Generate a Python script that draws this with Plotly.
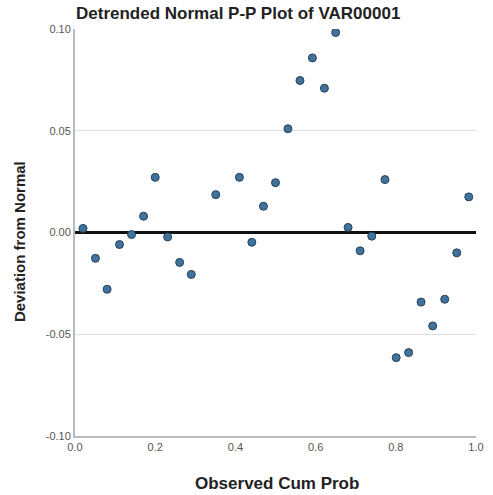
import plotly.graph_objects as go

observed_cum_prob = [0.020, 0.051, 0.080, 0.111, 0.141, 0.171, 0.200, 0.231, 0.261, 0.290,
                     0.351, 0.410, 0.441, 0.470, 0.500, 0.531, 0.561, 0.592, 0.622, 0.650,
                     0.681, 0.711, 0.740, 0.773, 0.801, 0.832, 0.863, 0.892, 0.922, 0.952, 0.982]
deviation = [0.0020, -0.0127, -0.0279, -0.0059, -0.0010, 0.0080, 0.0271, -0.0022, -0.0147, -0.0206,
             0.0186, 0.0271, -0.0048, 0.0129, 0.0245, 0.0510, 0.0747, 0.0858, 0.0709, 0.0983,
             0.0025, -0.0090, -0.0018, 0.0260, -0.0615, -0.0590, -0.0342, -0.0459, -0.0328, -0.0100, 0.0175]

x_ticks = [0.0, 0.2, 0.4, 0.6, 0.8, 1.0]
x_labels = ["0.0", "0.2", "0.4", "0.6", "0.8", "1.0"]
y_ticks = [-0.10, -0.05, 0.00, 0.05, 0.10]
y_labels = ["-0.10", "-0.05", "0.00", "0.05", "0.10"]

fig = go.Figure()
fig.add_trace(go.Scatter(
    x=[0, 1], y=[0, 0], mode="lines",
    line=dict(color="#111111", width=3), hoverinfo="skip", showlegend=False))
fig.add_trace(go.Scatter(
    x=observed_cum_prob, y=deviation, mode="markers",
    marker=dict(size=8, color="#41729a", line=dict(color="#23425e", width=1)),
    showlegend=False))

fig.update_layout(
    width=493, height=495,
    margin=dict(l=75, r=9, t=29, b=59),
    paper_bgcolor="white", plot_bgcolor="white",
    font=dict(family="Liberation Sans, Arial, sans-serif"),
    title=dict(text="<b>Detrended Normal P-P Plot of VAR00001</b>",
               x=76/493, xanchor="left", y=1-13/495, yanchor="middle",
               font=dict(size=17, color="#222222")),
    xaxis=dict(range=[0, 1], tickvals=x_ticks, ticktext=x_labels,
               showgrid=False, zeroline=False, showline=True,
               linecolor="#bbbbbb", linewidth=2, ticks="",
               tickfont=dict(size=11, color="#555555")),
    yaxis=dict(range=[-0.1, 0.1], tickvals=y_ticks, ticktext=y_labels,
               showgrid=True, gridcolor="#dddddd", gridwidth=1, zeroline=False,
               showline=True, linecolor="#bbbbbb", linewidth=2, ticks="",
               tickfont=dict(size=11, color="#555555")),
    annotations=[
        dict(text="<b>Observed Cum Prob</b>", xref="paper", yref="paper",
             x=(281 - 75) / 409, y=(436 - 483) / 407, xanchor="center", yanchor="middle",
             showarrow=False, font=dict(size=17, color="#222222")),
        dict(text="<b>Deviation from Normal</b>", xref="paper", yref="paper",
             x=(19 - 75) / 409, y=(436 - 242) / 407, xanchor="center", yanchor="middle",
             textangle=-90, showarrow=False, font=dict(size=15, color="#222222")),
    ],
)

fig.write_html("out.html")
